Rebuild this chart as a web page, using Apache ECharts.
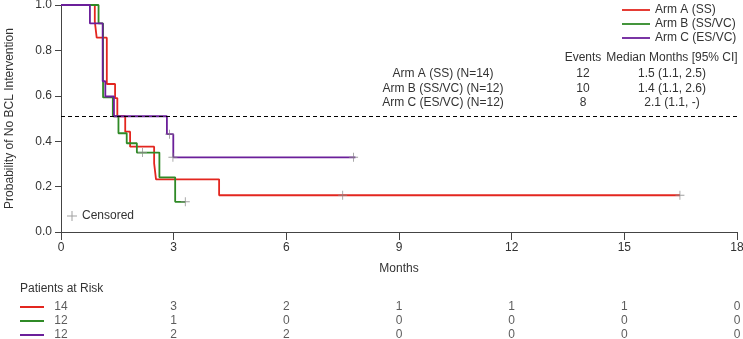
<!DOCTYPE html>
<html>
<head>
<meta charset="utf-8">
<script src="https://cdn.jsdelivr.net/npm/echarts@6/dist/echarts.min.js"></script>
<style>
html, body {margin: 0; padding: 0; background: #fff;}
#block1 {width: 743px; height: 339px;}
</style>
</head>
<body>
<div id="block1"></div>
<script>
var armNames = ['Arm A (SS)', 'Arm B (SS/VC)', 'Arm C (ES/VC)'];
var colorList = ['#e3261f', '#2f8a26', '#6b1f9a'];

// KM steps: time in months, probability after the step
var timeA = [0, 0.9, 0.95, 1.22, 1.44, 1.5, 1.71, 1.84, 2.48, 2.53, 4.21, 16.48];
var survA = [1, 0.928, 0.856, 0.652, 0.59, 0.51, 0.442, 0.376, 0.302, 0.232, 0.162, 0.162];
var timeB = [0, 1.0, 1.12, 1.38, 1.53, 1.75, 2.02, 2.62, 3.04, 3.31];
var survB = [1, 0.919, 0.593, 0.51, 0.435, 0.391, 0.35, 0.241, 0.133, 0.133];
var timeC = [0, 0.77, 1.11, 1.18, 1.41, 2.82, 2.99, 7.84];
var survC = [1, 0.919, 0.664, 0.597, 0.51, 0.431, 0.329, 0.329];

// censored observations [time, probability]
var censorA = [[7.5, 0.162], [16.48, 0.162]];
var censorB = [[2.17, 0.35], [3.31, 0.133]];
var censorC = [[2.89, 0.431], [2.98, 0.329], [7.79, 0.329]];

var medianLevel = 0.51;

var tableLabels = ['Arm A (SS) (N=14)', 'Arm B (SS/VC) (N=12)', 'Arm C (ES/VC) (N=12)'];
var tableEvents = ['12', '10', '8'];
var tableMedians = ['1.5 (1.1, 2.5)', '1.4 (1.1, 2.6)', '2.1 (1.1, -)'];

var riskTimes = [0, 3, 6, 9, 12, 15, 18];
var riskA = [14, 3, 2, 1, 1, 1, 0];
var riskB = [12, 1, 0, 0, 0, 0, 0];
var riskC = [12, 2, 2, 0, 0, 0, 0];

var fontName = 'Liberation Sans, Arial, sans-serif';
var textColor = '#333';
var axisColor = '#444';
var plusPath = 'path://M4.5,0h1v4.5h4.5v1h-4.5v4.5h-1v-4.5h-4.5v-1h4.5z';
var linePath = 'path://M0,0H28V1.8H0Z';

function zip(t, s) {
    return t.map(function (v, i) { return [v, s[i]]; });
}

var kmTimes = [timeA, timeB, timeC];
var kmSurv = [survA, survB, survC];
var riskRows = [riskA, riskB, riskC];

var series = [];
for (var i = 0; i < 3; i++) {
    var s = {
        name: armNames[i],
        type: 'line',
        step: 'end',
        symbol: 'none',
        xAxisIndex: 0,
        yAxisIndex: 0,
        data: zip(kmTimes[i], kmSurv[i]),
        lineStyle: {color: colorList[i], width: 1.8},
        itemStyle: {color: colorList[i]},
        z: 3
    };
    if (i === 0) {
        s.markLine = {
            silent: true,
            symbol: 'none',
            label: {show: false},
            lineStyle: {color: '#000', type: [4, 3], width: 1},
            data: [{yAxis: medianLevel}]
        };
    }
    series.push(s);
}

series.push({
    name: 'Censored',
    type: 'scatter',
    symbol: plusPath,
    symbolSize: 9,
    xAxisIndex: 0,
    yAxisIndex: 0,
    itemStyle: {color: '#8a8a8a'},
    data: censorA.concat(censorB, censorC),
    z: 5
});

var riskData = [];
riskRows.forEach(function (row, r) {
    row.forEach(function (n, j) {
        riskData.push([riskTimes[j], r, n]);
    });
});
series.push({
    name: 'risk',
    type: 'scatter',
    xAxisIndex: 1,
    yAxisIndex: 1,
    symbolSize: 1,
    itemStyle: {color: 'rgba(0,0,0,0)'},
    label: {
        show: true,
        position: 'inside',
        color: textColor,
        fontSize: 12,
        fontFamily: fontName,
        formatter: function (p) { return p.value[2]; }
    },
    data: riskData
});

var graphics = [];
function addText(txt, x, y, align) {
    graphics.push({
        type: 'text',
        x: x,
        y: y,
        silent: true,
        style: {text: txt, align: align || 'center', verticalAlign: 'middle', font: '12px ' + fontName, fill: textColor}
    });
}
addText('Events', 583, 58);
addText('Median Months [95% CI]', 672, 58);
var rowY = [74, 88.5, 103];
for (var k = 0; k < 3; k++) {
    addText(tableLabels[k], 443, rowY[k]);
    addText(tableEvents[k], 583, rowY[k]);
    addText(tableMedians[k], 672, rowY[k]);
}
addText('Patients at Risk', 20, 289, 'left');

var riskRich = {};
colorList.forEach(function (c, i) {
    riskRich['l' + i] = {width: 24, height: 2, backgroundColor: c};
});

var option1 = {
    animation: false,
    textStyle: {fontFamily: fontName},
    grid: [
        {left: 61, right: 6, top: 5, height: 227, outerBoundsMode: 'none', containLabel: false},
        {left: 61, right: 6, top: 300, height: 42, outerBoundsMode: 'none', containLabel: false}
    ],
    legend: [
        {
            data: armNames.map(function (n) { return {name: n, icon: linePath}; }),
            orient: 'vertical',
            left: 622,
            top: 4,
            padding: 0,
            itemWidth: 28,
            itemHeight: 12,
            itemGap: 2,
            selectedMode: false,
            textStyle: {fontSize: 12, color: textColor}
        },
        {
            data: [{name: 'Censored', icon: plusPath}],
            left: 67,
            top: 210,
            padding: 0,
            itemWidth: 10,
            itemHeight: 10,
            selectedMode: false,
            textStyle: {fontSize: 12, color: textColor}
        }
    ],
    xAxis: [
        {
            type: 'value',
            gridIndex: 0,
            min: 0,
            max: 18,
            interval: 3,
            name: 'Months',
            nameLocation: 'middle',
            nameGap: 31,
            nameTextStyle: {fontSize: 12, color: textColor},
            axisLine: {show: true, lineStyle: {color: axisColor}},
            axisTick: {show: true, length: 8, lineStyle: {color: axisColor}},
            axisLabel: {fontSize: 12, color: textColor, margin: 10},
            splitLine: {show: false}
        },
        {
            type: 'value',
            gridIndex: 1,
            min: 0,
            max: 18,
            interval: 3,
            show: false
        }
    ],
    yAxis: [
        {
            type: 'value',
            gridIndex: 0,
            min: 0,
            max: 1,
            interval: 0.2,
            name: 'Probability of No BCL Intervention',
            nameLocation: 'middle',
            nameGap: 45,
            nameTextStyle: {fontSize: 12, color: textColor},
            axisLine: {show: true, lineStyle: {color: axisColor}},
            axisTick: {show: true, length: 6, lineStyle: {color: axisColor}},
            axisLabel: {
                fontSize: 12,
                color: textColor,
                margin: 9,
                formatter: function (v) { return v.toFixed(1); }
            },
            splitLine: {show: false}
        },
        {
            type: 'category',
            gridIndex: 1,
            inverse: true,
            data: ['0', '1', '2'],
            axisLine: {show: false},
            axisTick: {show: false},
            axisLabel: {
                interval: 0,
                margin: 17,
                formatter: function (v, idx) { return '{l' + idx + '| }'; },
                rich: riskRich
            }
        }
    ],
    graphic: graphics,
    series: series
};

var chart1 = echarts.init(document.getElementById('block1'));
chart1.setOption(option1);
</script>
</body>
</html>
